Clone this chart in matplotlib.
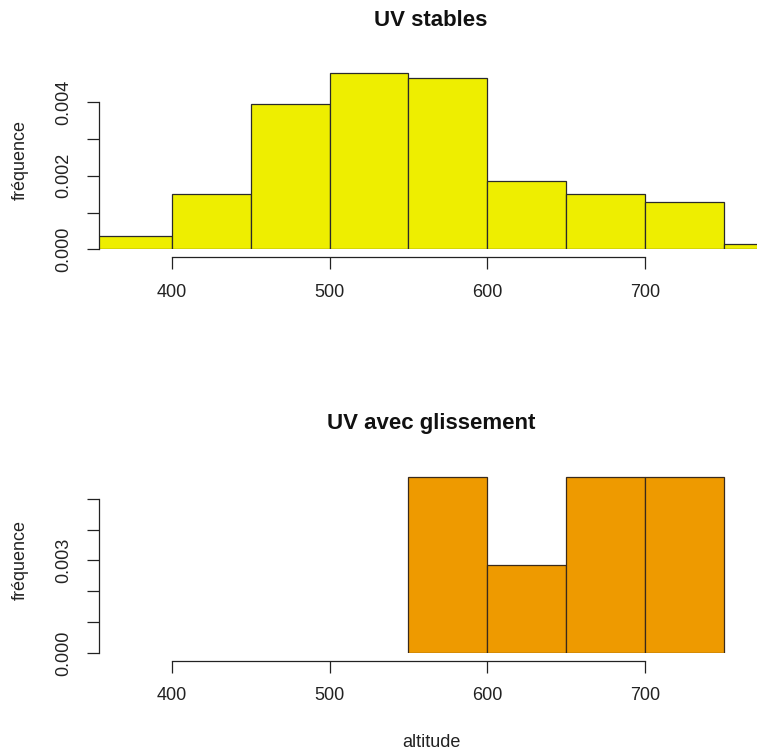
import numpy as np
import matplotlib.pyplot as plt

plt.rcParams['font.family'] = ['Liberation Sans', 'DejaVu Sans']

# histogram data (density per bin, bin width 50)
stable_edges = [350, 400, 450, 500, 550, 600, 650, 700, 750, 800]
stable_dens = [0.00037, 0.0015, 0.00394, 0.00478, 0.00465, 0.00186, 0.0015, 0.00129, 0.00015]

gliss_edges = [550, 600, 650, 700, 750]
gliss_dens = [0.00571, 0.00286, 0.00571, 0.00571]

xticks = [400, 500, 600, 700]
top_yticks = [0, 0.001, 0.002, 0.003, 0.004]
top_ylabels = ['0.000', '', '0.002', '', '0.004']
bot_yticks = [0, 0.001, 0.002, 0.003, 0.004, 0.005]
bot_ylabels = ['0.000', '', '', '0.003', '', '']

W, H = 757, 751
fig = plt.figure(figsize=(W / 100, H / 100), dpi=100)

px_per_unit = (645 - 172) / 300.0
xlim = (400 - (172 - 99) / px_per_unit, 700 + (761 - 645) / px_per_unit)


def make_axes(y0_pix, ytop_pix, ymax):
    return fig.add_axes([99 / W, 1 - y0_pix / H, (761 - 99) / W, (y0_pix - ytop_pix) / H],
                        xlim=xlim, ylim=(0, ymax))


def style(ax, yticks, ylabels, out_pt):
    for s in ['top', 'right']:
        ax.spines[s].set_visible(False)
    ax.spines['bottom'].set_position(('outward', out_pt))
    ax.spines['bottom'].set_bounds(400, 700)
    ax.spines['left'].set_bounds(yticks[0], yticks[-1])
    for s in ['bottom', 'left']:
        ax.spines[s].set_linewidth(0.9)
        ax.spines[s].set_color('#222222')
    ax.set_xticks(xticks)
    ax.set_xticklabels([str(t) for t in xticks])
    ax.set_yticks(yticks)
    ax.set_yticklabels(ylabels, rotation=90, va='center')
    ax.tick_params(length=8.3, width=0.9, color='#222222', pad=11, labelsize=13,
                   labelcolor='#222222')


# top: UV stables
step_top = (249.5 - 102) / 4.0
ax1 = make_axes(249.5, 249.5 - 5 * step_top, 0.005)
ax1.bar(stable_edges[:-1], stable_dens, width=np.diff(stable_edges), align='edge',
        color='#EEEE00', edgecolor='#2a2a2a', linewidth=0.9)
style(ax1, top_yticks, top_ylabels, 5.4)

# bottom: UV avec glissement
step_bot = (653 - 498.7) / 5.0
ax2 = make_axes(653, 653 - 6 * step_bot, 0.006)
ax2.bar(gliss_edges[:-1], gliss_dens, width=np.diff(gliss_edges), align='edge',
        color='#EE9A00', edgecolor='#3a2a1a', linewidth=0.9)
style(ax2, bot_yticks, bot_ylabels, 5.5)

fig.text(431 / W, 1 - 21 / H, 'UV stables', ha='center', va='center',
         fontsize=16, fontweight='bold', color='#111111')
fig.text(431 / W, 1 - 423 / H, 'UV avec glissement', ha='center', va='center',
         fontsize=16, fontweight='bold', color='#111111')
fig.text(20 / W, 1 - 160 / H, 'fréquence', rotation=90, ha='center', va='center',
         fontsize=13, color='#222222')
fig.text(20 / W, 1 - 560 / H, 'fréquence', rotation=90, ha='center', va='center',
         fontsize=13, color='#222222')
fig.text(431 / W, 1 - 747 / H, 'altitude', ha='center', va='baseline',
         fontsize=13, color='#222222')

fig.savefig('out.png', dpi=100)
